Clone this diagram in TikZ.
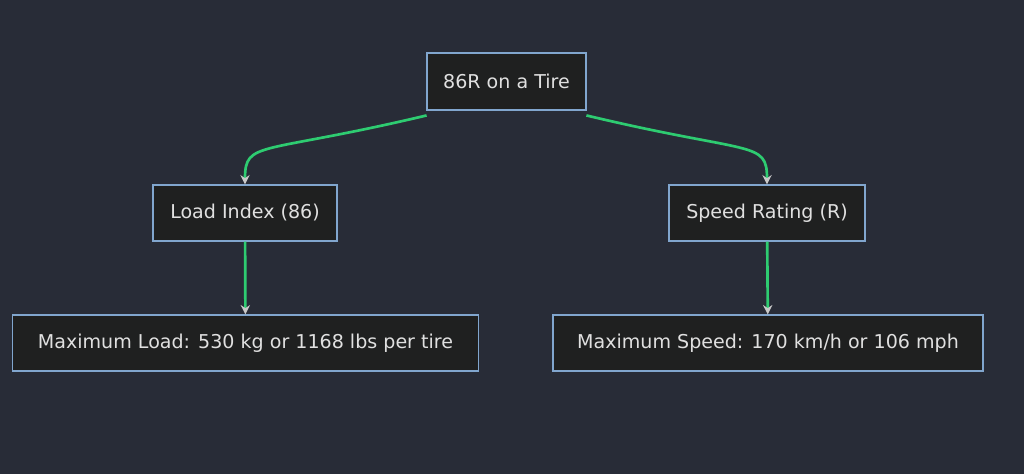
\documentclass[tikz,border=0pt]{standalone}
\usepackage{fontspec}
\setmainfont{DejaVu Sans}
\usetikzlibrary{arrows.meta}
\definecolor{bg}{HTML}{282C37}
\definecolor{nodefill}{HTML}{1F2020}
\definecolor{nodeline}{HTML}{81A6CE}
\definecolor{txt}{HTML}{E0E0E0}
\definecolor{edge}{HTML}{2ECC71}
\definecolor{tipc}{HTML}{C8C8C8}
\begin{document}
\begin{tikzpicture}[x=0.75pt,y=-0.75pt,
  box/.style={draw=nodeline,fill=nodefill,text=txt,line width=0.9pt,font=\fontsize{14.3}{16}\selectfont,minimum height=42pt,inner sep=0pt,anchor=center},
  link/.style={draw=edge,line width=2pt,-{Stealth[length=7pt,width=7pt,color=tipc]}}]
\fill[bg] (0,0) rectangle (1024,474);
\node[box,minimum width=119pt] (top) at (506.5,81.5) {86R on a Tire};
\node[box,minimum width=138pt] (li) at (245,213) {Load Index (86)};
\node[box,minimum width=147pt] (sr) at (767,213) {Speed Rating (R)};
\node[box,minimum width=350pt] (ml) at (245.5,343) {Maximum Load: 530 kg or 1168 lbs per tire};
\node[box,minimum width=322.5pt] (ms) at (768,343) {Maximum Speed: 170 km/h or 106 mph};
\draw[link] ([yshift=-4pt]top.south west) .. controls (260,155) and (245,140) .. (li.north);
\draw[link] ([yshift=-4pt]top.south east) .. controls (752,155) and (767,140) .. (sr.north);
\draw[link] (li) -- (ml);
\draw[link] (sr) -- (ms);
\draw[draw=nodeline,line width=0.9pt] (top.south west) rectangle (top.north east);
\end{tikzpicture}
\end{document}
